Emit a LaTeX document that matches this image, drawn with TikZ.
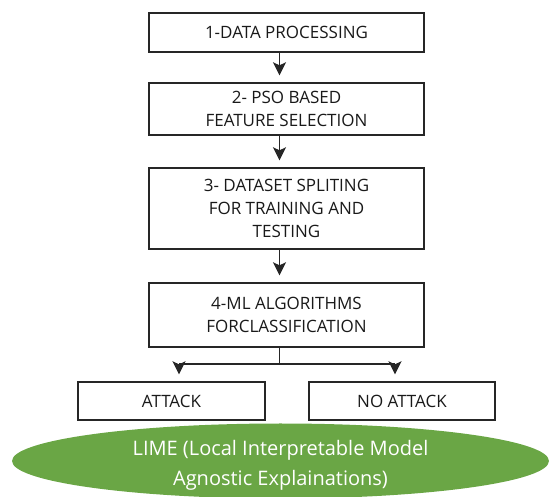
\documentclass[tikz,border=0pt]{standalone}
\usepackage{fontspec}
\setmainfont{Open Sans}
\usetikzlibrary{arrows.meta}
\definecolor{limegreen}{RGB}{106,166,69}
\definecolor{boxtext}{RGB}{25,25,25}
\tikzset{
  stepbox/.style={draw=black!85, line width=1.4pt, minimum width=275pt, align=center, inner sep=0pt, text=boxtext, font=\fontsize{17}{23}\selectfont},
  flowarrow/.style={draw=black!85, line width=1.3pt, -{Stealth[length=13pt,width=13pt,inset=3pt]}, shorten >=7pt},
  link/.style={draw=black!85, line width=1.3pt}
}
\begin{document}
\begin{tikzpicture}[x=1pt,y=-1pt]
\useasboundingbox (0,0) rectangle (550,497);
\node[stepbox, minimum height=39pt] (b1) at (286.5,32.5) {1-DATA PROCESSING};
\node[stepbox, minimum height=52pt] (b2) at (286.5,109) {2- PSO BASED\\FEATURE SELECTION};
\node[stepbox, minimum height=81pt] (b3) at (286.5,208.5) {3- DATASET SPLITING\\FOR TRAINING AND\\TESTING};
\node[stepbox, minimum height=64pt] (b4) at (286.5,315) {4-ML ALGORITHMS\\FORCLASSIFICATION};
\node[stepbox, minimum width=187pt, minimum height=38pt] (att) at (171.5,401) {ATTACK};
\node[stepbox, minimum width=186pt, minimum height=38pt] (noatt) at (402,401) {NO ATTACK};
\fill[limegreen] (280.5,461) ellipse [x radius=268.5, y radius=37.5];
\node[text=white, align=center, font=\fontsize{20}{30}\selectfont] (lime) at (280.5,465) {LIME (Local Interpretable Model\\Agnostic Explainations)};
\coordinate (ax) at (279.5,0);
\coordinate (jn) at (279.5,364);
\coordinate (jl) at (179,364);
\coordinate (jr) at (395,364);
\draw[flowarrow] (b1.south -| ax) -- (b2.north -| ax);
\draw[flowarrow] (b2.south -| ax) -- (b3.north -| ax);
\draw[flowarrow] (b3.south -| ax) -- (b4.north -| ax);
\draw[link] (b4.south -| ax) -- (jn);
\draw[link] (jl) -- (jr);
\draw[flowarrow] (jl) -- (att.north -| jl);
\draw[flowarrow] (jr) -- (noatt.north -| jr);
\end{tikzpicture}
\end{document}
